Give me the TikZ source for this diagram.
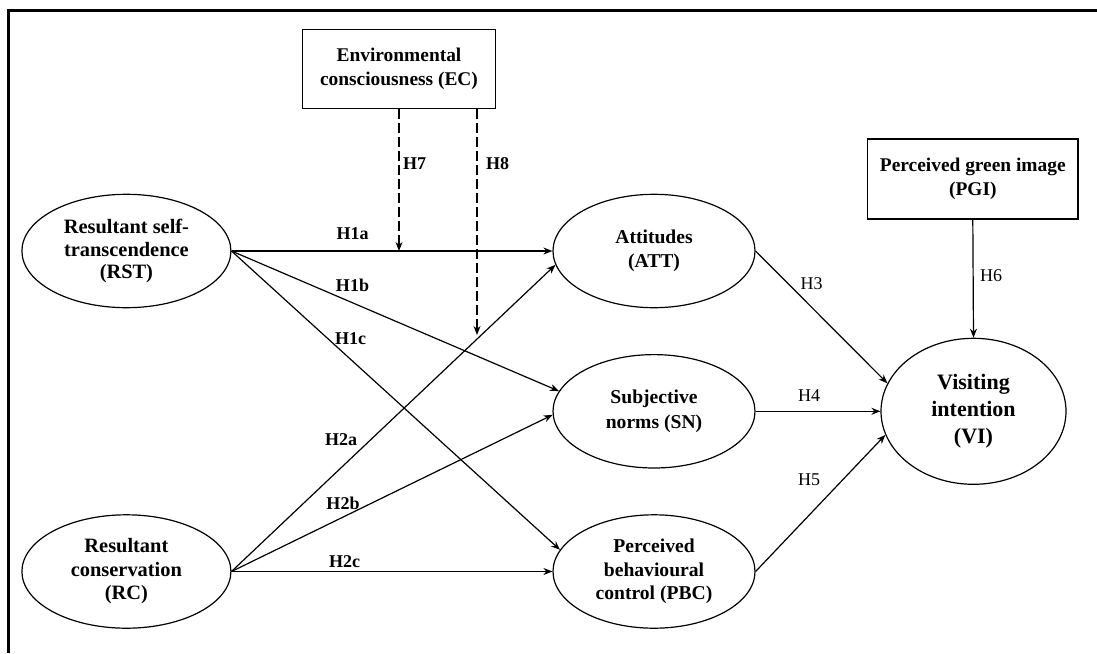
\documentclass[tikz,border=0pt]{standalone}
\usepackage{fontspec}
\setmainfont{Liberation Serif}
\usetikzlibrary{shapes.geometric,arrows.meta}
\begin{document}
\begin{tikzpicture}[x=0.5pt,y=-0.5pt,
  lat/.style={ellipse,draw,line width=0.6pt,inner sep=0pt,minimum width=101pt,minimum height=56.7pt,align=center,font=\fontsize{9.8}{11.75}\selectfont\bfseries},
  obs/.style={rectangle,draw,line width=0.6pt,inner sep=0pt,align=center,font=\fontsize{9.7}{12}\selectfont\bfseries},
  conn/.style={line width=0.6pt,-{Stealth[length=4.5pt,width=3.5pt]}},
  mod/.style={conn,dash pattern=on 5pt off 2pt},
  labb/.style={inner sep=0pt,font=\fontsize{9}{10}\selectfont\bfseries},
  labr/.style={inner sep=0pt,font=\fontsize{9}{10}\selectfont}
]
\useasboundingbox (0,0) rectangle (1097,653);
\draw[line width=1.5pt] (8.8,653) -- (8.8,10) -- (1097,10);

\node[lat,minimum width=104.5pt,font=\fontsize{10.2}{11.25}\selectfont\bfseries] (RST) at (126.4,251) {Resultant self-\\transcendence\\(RST)};
\node[lat,minimum width=104.5pt,font=\fontsize{10.2}{11.75}\selectfont\bfseries] (RC) at (126.4,571.5) {Resultant\\conservation\\(RC)};
\node[lat] (ATT) at (654,251) {Attitudes\\(ATT)};
\node[lat,font=\fontsize{9.8}{12.5}\selectfont\bfseries] (SN) at (654,411.3) {Subjective\\norms (SN)};
\node[lat] (PBC) at (654,571.5) {Perceived\\behavioural\\control (PBC)};
\node[lat,minimum width=92.5pt,minimum height=73pt,font=\fontsize{11}{13.3}\selectfont\bfseries] (VI) at (973.5,411.3) {Visiting\\intention\\(VI)};
\node[obs,minimum width=96.5pt,minimum height=39.7pt] (EC) at (399,69) {Environmental\\consciousness (EC)};
\node[obs,minimum width=105.25pt,minimum height=40pt] (PGI) at (972.8,179) {Perceived green image\\(PGI)};

\draw[conn] (RST.east) -- (ATT.west);
\draw[conn] (RST.east) -- (SN.168);
\draw[conn] (RST.east) -- (PBC.167);
\draw[conn] (RC.east) -- (ATT.188);
\draw[conn] (RC.east) -- (SN.182);
\draw[conn] (RC.east) -- (PBC.west);
\draw[conn] (ATT.east) -- (VI.162);
\draw[conn] (SN.east) -- (VI.west);
\draw[conn] (PBC.east) -- (VI.195);
\draw[conn] (PGI.south) -- (VI.north);

\coordinate (m7) at (EC.south |- RST.east);
\draw[mod] (EC.south) -- (m7);
\coordinate (m8) at (477,335);
\draw[mod] (m8 |- EC.south) -- (m8);

\node[labb] (l7) at (414.5,163.3) {H7};
\node[labb] (l8) at (497.5,163.3) {H8};
\node[labb] (l1a) at (352.5,234) {H1a};
\node[labb] (l1b) at (352.5,285.7) {H1b};
\node[labb] (l1c) at (350.7,338.3) {H1c};
\node[labb] (l2a) at (341,440) {H2a};
\node[labb] (l2b) at (343,503.3) {H2b};
\node[labb] (l2c) at (344.7,561.7) {H2c};
\node[labr] (l3) at (811.5,283.3) {H3};
\node[labr] (l4) at (809,395.7) {H4};
\node[labr] (l5) at (809,479.3) {H5};
\node[labr] (l6) at (991,275.3) {H6};
\end{tikzpicture}
\end{document}
